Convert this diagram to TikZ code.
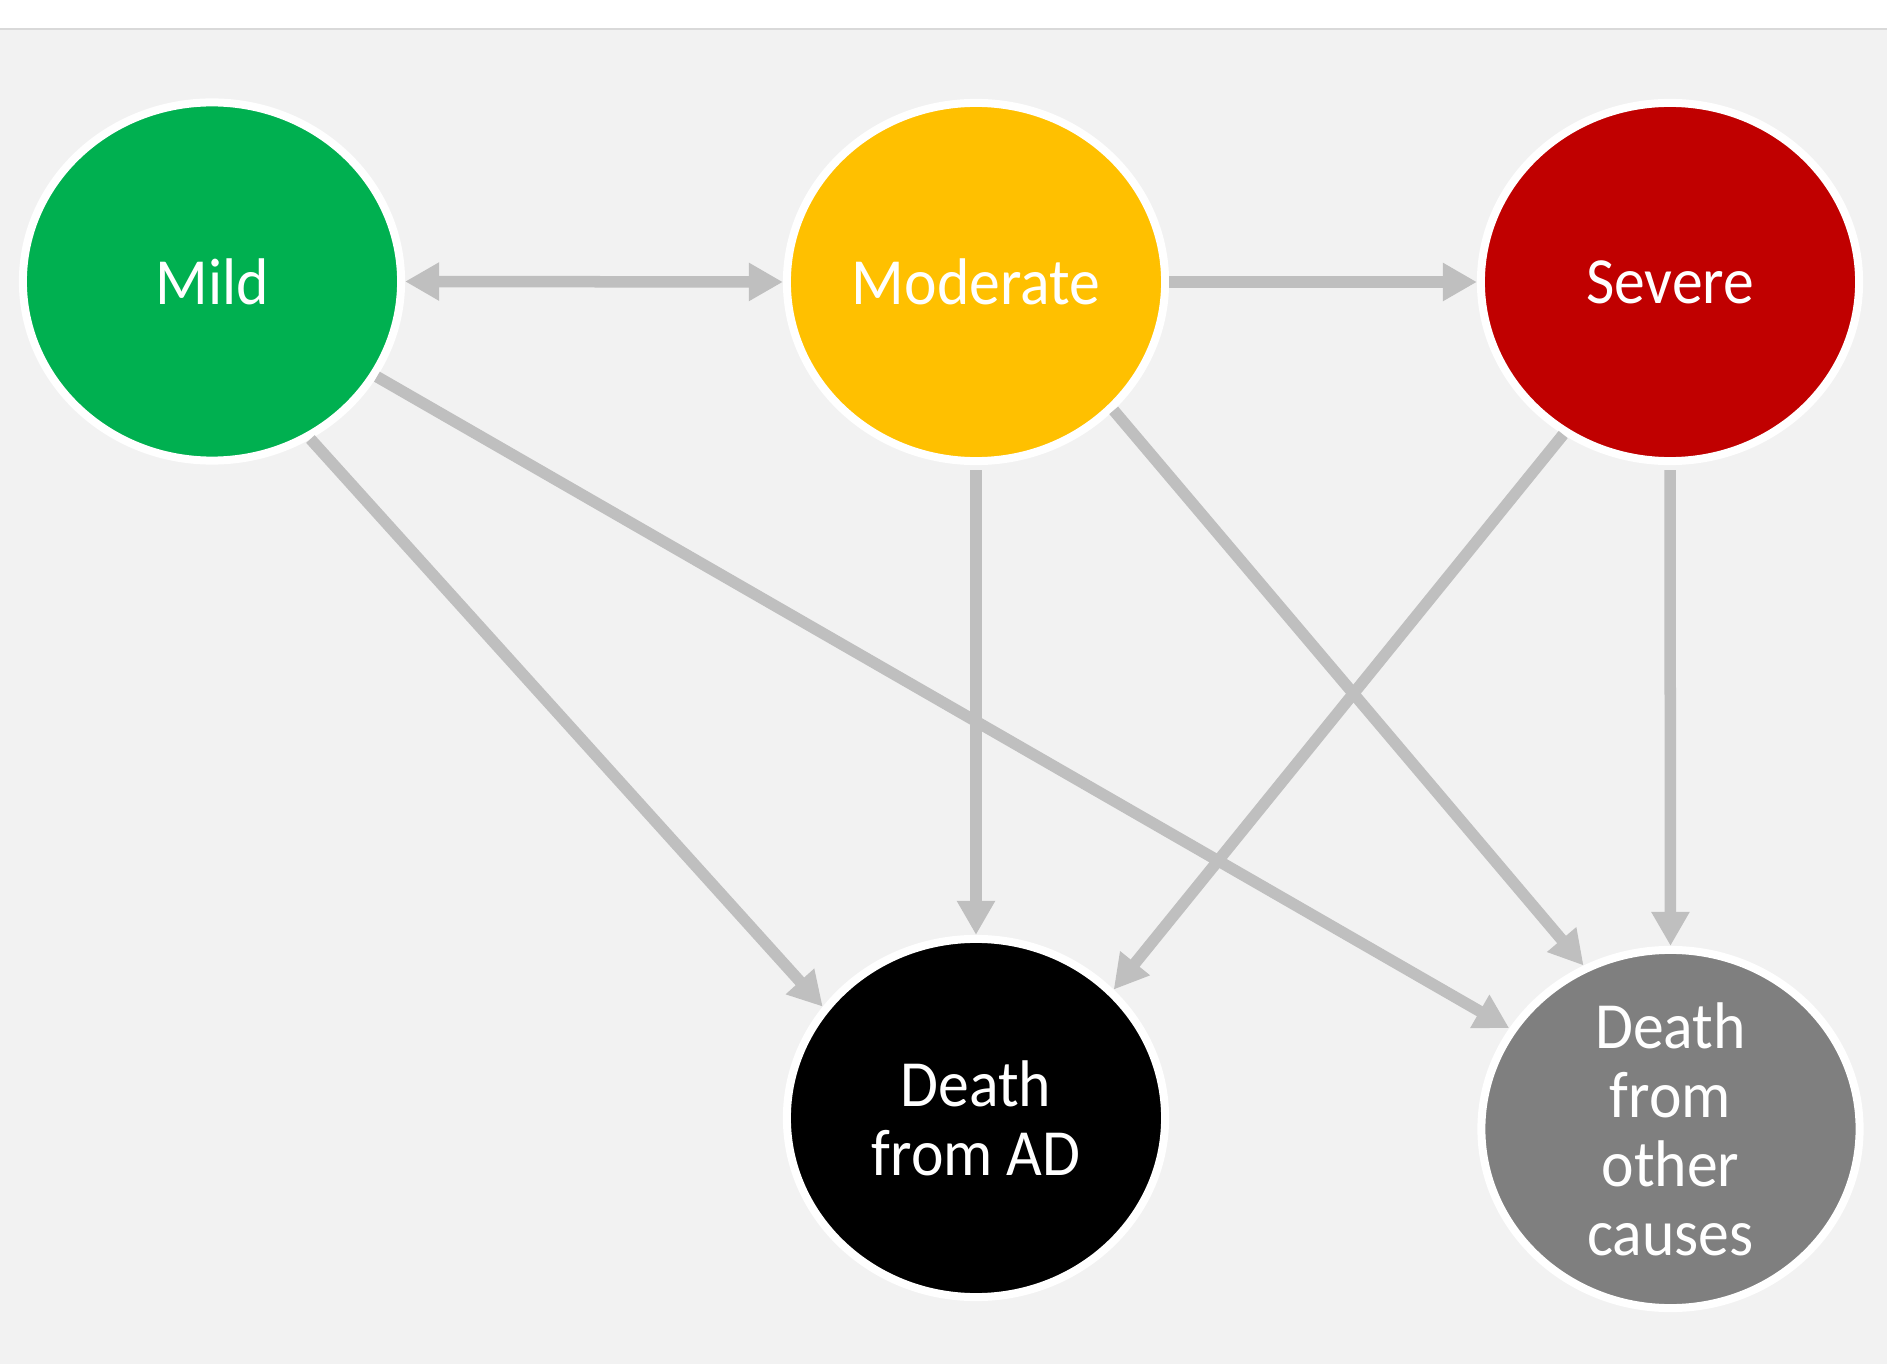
\documentclass[tikz,border=0pt]{standalone}
\usepackage{fontspec}
\setmainfont{Carlito}[FakeStretch=0.935]
\usepackage{tikz}
\usetikzlibrary{arrows.meta,shapes.geometric}
\definecolor{adgreen}{RGB}{0,176,80}
\definecolor{adyellow}{RGB}{255,192,0}
\definecolor{adred}{RGB}{192,0,0}
\definecolor{adgray}{RGB}{127,127,127}
\definecolor{linegray}{RGB}{191,191,191}
\definecolor{bggray}{RGB}{242,242,242}
\definecolor{rulegray}{RGB}{217,217,217}

\begin{document}
\begin{tikzpicture}[x=0.01cm, y=-0.01cm,
  stage/.style={ellipse, draw=white, line width=0.08cm, inner sep=0pt,
    minimum width=3.78cm, minimum height=3.58cm, text=white, align=center,
    font=\fontsize{18.75pt}{19.6pt}\selectfont},
  flow/.style={draw=linegray, line width=0.115cm,
    -{Triangle[length=3.4mm, width=3.6mm]}},
  twoway/.style={draw=linegray, line width=0.115cm,
    {Triangle[length=3.4mm, width=3.6mm]}-{Triangle[length=3.4mm, width=3.6mm]}}]
% Background
\useasboundingbox (0,0) rectangle (1887,1364);
\fill[white] (0,0) rectangle (1887,29);
\fill[bggray] (0,29) rectangle (1887,1364);
\draw[rulegray, line width=0.02cm] (0,29) -- (1887,29);
% Stages
\node[stage, fill=adgreen] (mild) at (212,281.5) {Mild};
\node[stage, fill=adyellow] (moderate) at (976,282) {Moderate};
\node[stage, fill=adred] (severe) at (1670,282) {Severe};
\node[stage, fill=black] (deathad) at (976,1118) {Death\\from AD};
\node[stage, fill=adgray] (deathother) at (1670.5,1129) {Death\\from\\other\\causes};
% Transitions
\draw[twoway] (mild.east) -- (moderate.west);
\draw[flow] (moderate.east) -- (severe.west);
\draw[flow, shorten <=0.05cm] (moderate.south) -- (deathad.north);
\draw[flow, shorten <=0.05cm] (severe.south) -- (deathother.north);
\foreach \from/\to in {mild.-58.8/deathad.144.4, mild.-30.6/deathother.148.5,
  moderate.-43.4/deathother.118.8, severe.-125.8/deathad.43.5} {
  \draw[flow] (\from) -- (\to);
}
\end{tikzpicture}
\end{document}
